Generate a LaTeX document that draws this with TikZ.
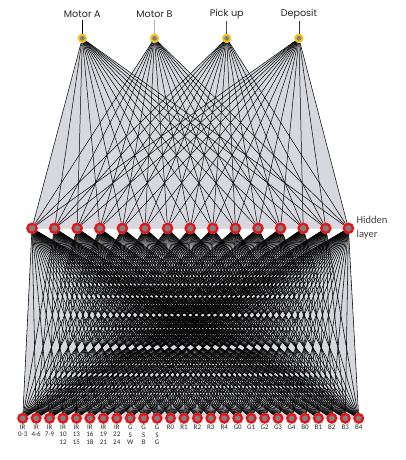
\documentclass[tikz,border=0pt]{standalone}
\usepackage{fontspec}
\setmainfont{Carlito}
\newfontfamily\motorfont{Poppins}
\usetikzlibrary{backgrounds}
\definecolor{bgray}{RGB}{214,216,222}
\definecolor{ngray}{RGB}{128,128,128}
\definecolor{nred}{RGB}{232,18,24}
\definecolor{nyellow}{RGB}{244,194,28}
\tikzset{
  outnode/.style={circle,draw=nyellow,fill=ngray,line width=2pt,minimum size=7.2pt,inner sep=0pt},
  hidnode/.style={circle,draw=nred,fill=ngray,line width=2.3pt,minimum size=9.2pt,inner sep=0pt},
  innode/.style={circle,draw=nred,fill=ngray,line width=2.3pt,minimum size=8.6pt,inner sep=0pt},
  outlabel/.style={font=\motorfont\fontsize{9.6}{12}\selectfont,inner sep=0pt,text=black!85},
  inlabel/.style={font=\fontsize{7}{7.8}\selectfont,align=center,inner sep=0pt,anchor=north,text=black!85},
  upwire/.style={black,line width=0.5pt},
  lowire/.style={black,line width=0.55pt}
}
\begin{document}
\begin{tikzpicture}[x=1pt,y=-1pt]
\useasboundingbox (0,0) rectangle (406,460);
% output layer
\foreach \t [count=\i] in {Motor A,Motor B,Pick up,Deposit}{
  \node[outnode] (o\i) at ({82.3+72.2*(\i-1)},38.3) {};
  \node[outlabel] (lab\i) at ({82.3+72.2*(\i-1)},14) {\t};
}
\draw[black,line width=0.6pt] (lab1.south) ++(0,2) coordinate (la1) (la1) -- (o1.north);
\draw[gray!60,line width=0.6pt] (lab2.south) ++(0,2) coordinate (la2) (la2) -- (o2.north);
\draw[black!70,line width=0.6pt] (lab3.south) ++(0,2) coordinate (la3) (la3) -- (o3.north);
\draw[black!80,line width=0.6pt] (lab4.south) ++(0,2) coordinate (la4) (la4) -- (o4.north);
% hidden layer
\foreach \j in {1,...,15}{
  \node[hidnode] (h\j) at ({32+22.6*(\j-1)},228.3) {};
}
\node[anchor=west,align=left,inner sep=0pt,font=\fontsize{10.5}{13.5}\selectfont,text=black!75] (hl) at (356.5,227.5) {Hidden\\layer};
% input layer
\foreach \t [count=\k] in {{IR\\0-3},{IR\\4-6},{IR\\7-9},{IR\\10\\12},{IR\\13\\15},{IR\\16\\18},{IR\\19\\21},{IR\\22\\24},{G\\S\\W},{G\\S\\B},{G\\S\\G},R0,R1,R2,R3,R4,G0,G1,G2,G3,G4,B0,B1,B2,B3,B4}{
  \node[innode] (i\k) at ({22.7+13.44*(\k-1)},418.3) {};
  \node[inlabel] (t\k) at ({22.7+13.44*(\k-1)},424.5) {\t};
}
\begin{scope}[on background layer]
  \foreach \i in {1,...,4}{
    \fill[bgray] (o\i.center) -- (h1.center) -- (h15.center) -- cycle;
  }
  \foreach \j in {1,...,15}{
    \fill[bgray] (h\j.center) -- (i1.center) -- (i26.center) -- cycle;
  }
  \foreach \i in {1,...,4}{
    \foreach \j in {1,...,15}{
      \draw[upwire] (o\i) -- (h\j);
    }
  }
  \foreach \j in {1,...,15}{
    \foreach \k in {1,...,26}{
      \draw[lowire] (h\j) -- (i\k);
    }
  }
\end{scope}
\end{tikzpicture}
\end{document}
